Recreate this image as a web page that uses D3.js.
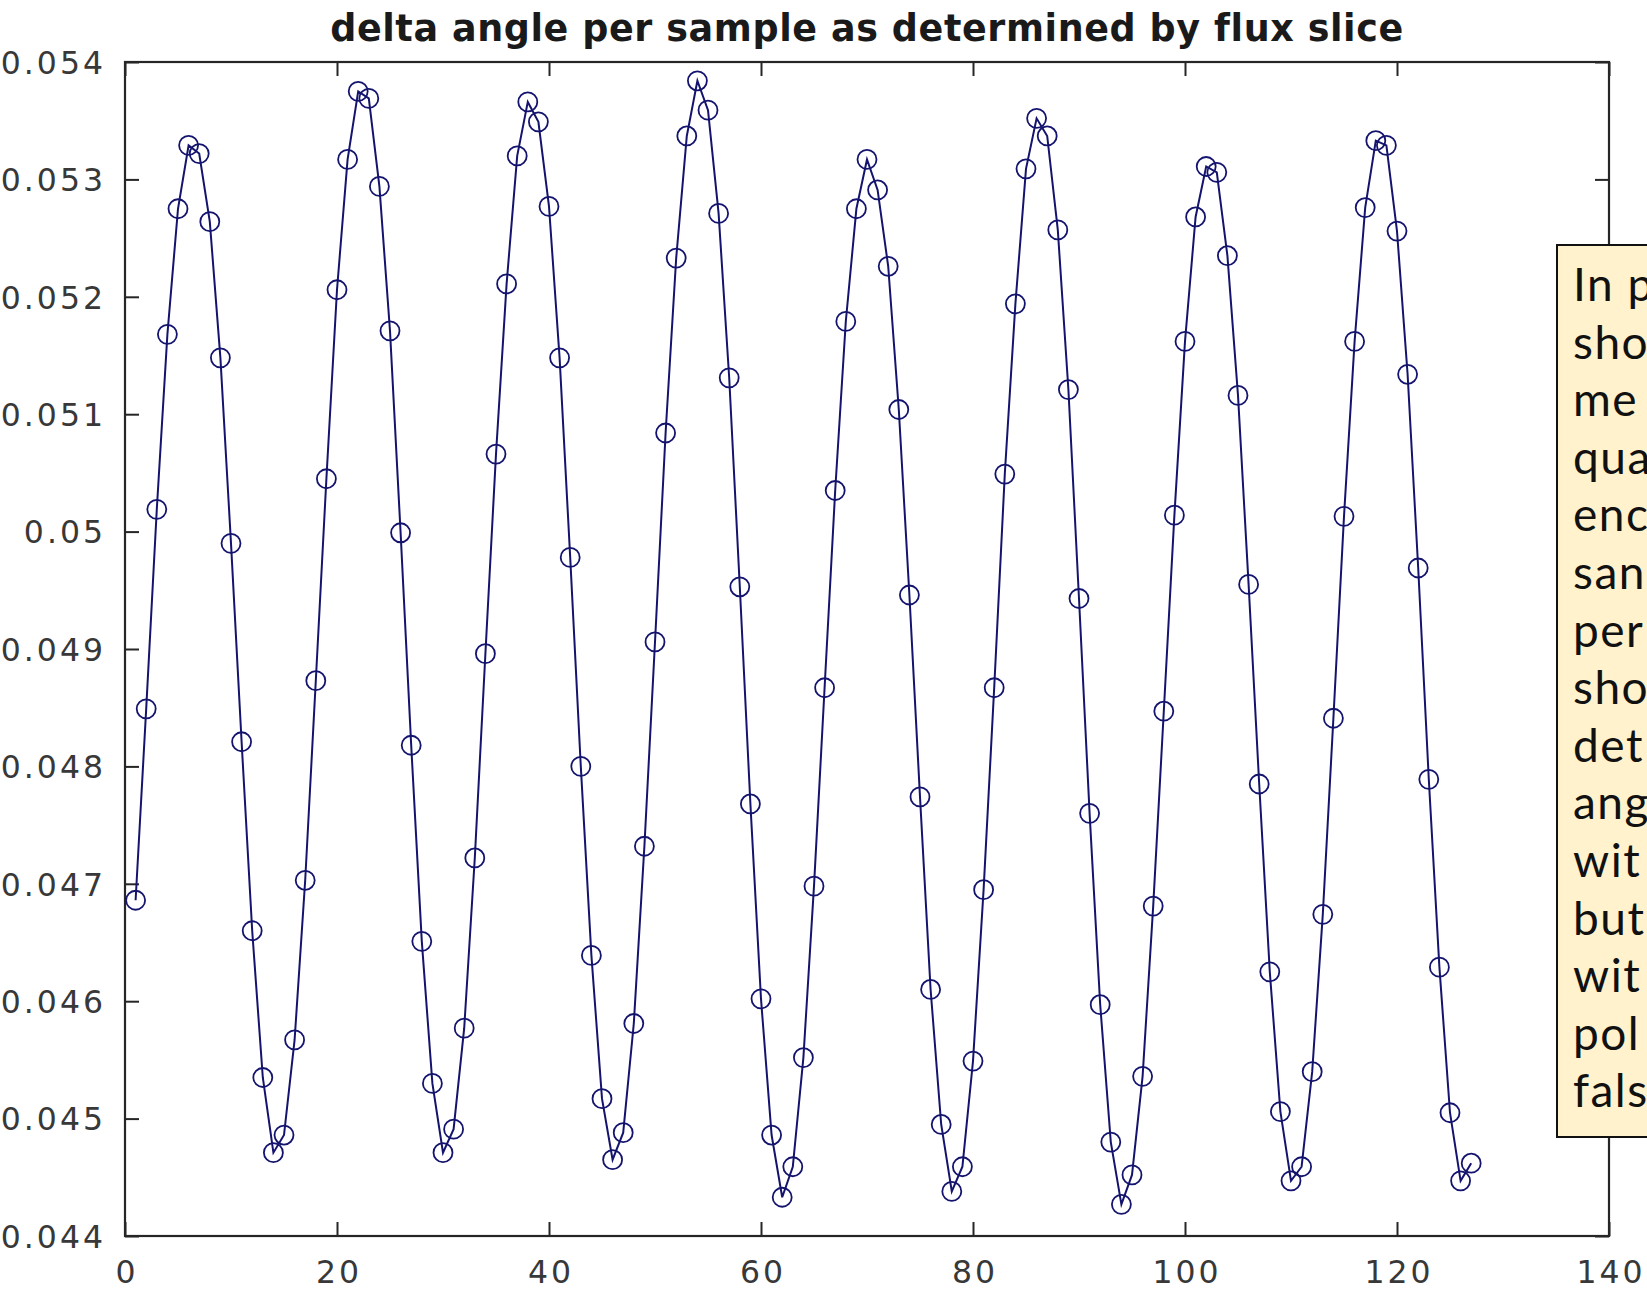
<!DOCTYPE html>
<html>
<head>
<meta charset="utf-8">
<script src="https://cdn.jsdelivr.net/npm/d3@7"></script>
<style>
  html, body { margin:0; padding:0; background:#fff; overflow:hidden; }
  svg { display:block; }
  .tick text { font-family:"DejaVu Sans", sans-serif; fill:#383838; letter-spacing:3px; }
</style>
</head>
<body>
<div id="chart"></div>
<script>
// delta angle per sample, sample 1..127
const deltaAngle = [
  0.04686,0.04849,0.05019,0.05168,0.05275,0.05329,0.05322,0.05264,0.05148,0.04990,
  0.04821,0.04660,0.04535,0.04471,0.04486,0.04567,0.04703,0.04873,0.05045,0.05206,
  0.05317,0.05375,0.05369,0.05294,0.05171,0.04999,0.04818,0.04651,0.04530,0.04471,
  0.04491,0.04577,0.04722,0.04896,0.05066,0.05211,0.05320,0.05366,0.05349,0.05277,
  0.05148,0.04978,0.04800,0.04639,0.04517,0.04465,0.04488,0.04581,0.04732,0.04906,
  0.05084,0.05233,0.05337,0.05384,0.05359,0.05271,0.05131,0.04953,0.04768,0.04602,
  0.04486,0.04433,0.04459,0.04552,0.04698,0.04867,0.05035,0.05179,0.05275,0.05317,
  0.05291,0.05226,0.05104,0.04946,0.04774,0.04610,0.04495,0.04438,0.04459,0.04549,
  0.04695,0.04867,0.05049,0.05194,0.05309,0.05352,0.05337,0.05257,0.05121,0.04943,
  0.04760,0.04597,0.04480,0.04427,0.04452,0.04536,0.04681,0.04847,0.05014,0.05162,
  0.05268,0.05311,0.05306,0.05235,0.05116,0.04955,0.04785,0.04625,0.04506,0.04447,
  0.04459,0.04540,0.04674,0.04841,0.05013,0.05162,0.05276,0.05333,0.05329,0.05256,
  0.05134,0.04969,0.04789,0.04629,0.04505,0.04447,0.04462
];

const xTicks = [0,20,40,60,80,100,120,140];
const yTicks = [0.044,0.045,0.046,0.047,0.048,0.049,0.05,0.051,0.052,0.053,0.054];
const yTickLabels = ["0.044","0.045","0.046","0.047","0.048","0.049","0.05","0.051","0.052","0.053","0.054"];

const titleText = "delta angle per sample as determined by flux slice";

// the slide note that overlaps the right edge (cut off in the original)
const noteLines = ["In p","sho","me","qua","enc","san","per","sho","det","ang","wit","but","wit","pol","fals"];

const W = 1647, H = 1293;
const margin = {top:62, right:38, bottom:57, left:125};
const innerW = W - margin.left - margin.right;
const innerH = H - margin.top - margin.bottom;

const lineColor = "#14146e";
const axisColor = "#262626";
const tickLen = 14;

const svg = d3.select("#chart").append("svg")
  .attr("width", W).attr("height", H)
  .attr("viewBox", `0 0 ${W} ${H}`);

const g = svg.append("g").attr("transform", `translate(${margin.left},${margin.top})`);

const x = d3.scaleLinear().domain([0,140]).range([0, innerW]);
const y = d3.scaleLinear().domain([0.044,0.054]).range([innerH, 0]);

const data = deltaAngle.map((v,i) => ({s:i+1, v}));

// axes: inward ticks on all four sides, labels only left/bottom
const fmtY = d => yTickLabels[yTicks.indexOf(d)];
const bottomAx = g.append("g").attr("transform", `translate(0,${innerH})`)
  .call(d3.axisBottom(x).tickValues(xTicks).tickSizeInner(-tickLen).tickSizeOuter(0).tickPadding(tickLen+11));
const leftAx = g.append("g")
  .call(d3.axisLeft(y).tickValues(yTicks).tickFormat(fmtY).tickSizeInner(-tickLen).tickSizeOuter(0).tickPadding(tickLen+5));
const topAx = g.append("g")
  .call(d3.axisTop(x).tickValues(xTicks).tickSizeInner(-tickLen).tickSizeOuter(0).tickFormat(""));
const rightAx = g.append("g").attr("transform", `translate(${innerW},0)`)
  .call(d3.axisRight(y).tickValues(yTicks).tickSizeInner(-tickLen).tickSizeOuter(0).tickFormat(""));

[bottomAx, leftAx, topAx, rightAx].forEach(a => {
  a.select(".domain").remove();
  a.selectAll(".tick line").attr("stroke", axisColor).attr("stroke-width", 2);
});
bottomAx.selectAll(".tick text").attr("font-size", 31.5).attr("dx", "0.05em");
leftAx.selectAll(".tick text").attr("font-size", 31.5).attr("dy", "0.36em");

// box
g.append("rect")
  .attr("x", 0).attr("y", 0).attr("width", innerW).attr("height", innerH)
  .attr("fill", "none").attr("stroke", axisColor).attr("stroke-width", 2.2);

// series line + circle markers
const line = d3.line().x(d => x(d.s)).y(d => y(d.v));
g.append("path").datum(data)
  .attr("d", line)
  .attr("fill", "none")
  .attr("stroke", lineColor)
  .attr("stroke-width", 2);

g.selectAll("circle.pt").data(data).join("circle")
  .attr("class", "pt")
  .attr("cx", d => x(d.s))
  .attr("cy", d => y(d.v))
  .attr("r", 9.5)
  .attr("fill", "none")
  .attr("stroke", lineColor)
  .attr("stroke-width", 1.8);

// title
svg.append("text")
  .attr("x", margin.left + innerW/2).attr("y", 41)
  .attr("text-anchor", "middle")
  .attr("font-family", "DejaVu Sans, sans-serif")
  .attr("font-weight", "bold")
  .attr("font-size", 36.5)
  .attr("letter-spacing", 0.6)
  .attr("fill", "#1a1a1a")
  .text(titleText);

// note box, runs off the right edge like in the original
const note = svg.append("g");
note.append("rect")
  .attr("x", 1557).attr("y", 245).attr("width", 130).attr("height", 892)
  .attr("fill", "#fff2cc").attr("stroke", "#111").attr("stroke-width", 2);
note.selectAll("text").data(noteLines).join("text")
  .attr("x", 1573)
  .attr("y", (d,i) => 301 + i*57.6)
  .attr("font-family", "Lato, 'Open Sans', sans-serif")
  .attr("font-size", 46)
  .attr("letter-spacing", 1.5)
  .attr("fill", "#111")
  .text(d => d);
</script>
</body>
</html>
